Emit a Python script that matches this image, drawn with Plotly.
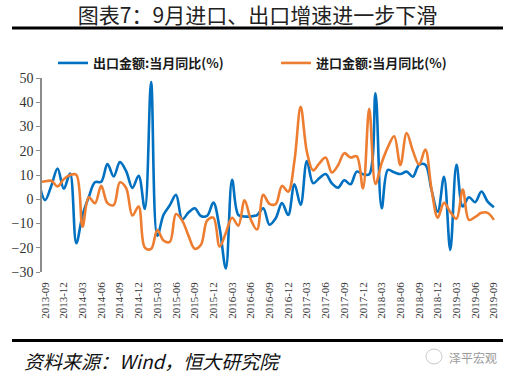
import numpy as np
import pandas as pd
import plotly.graph_objects as go

# ---- data (monthly, 2013-08 .. 2019-09) ----
months = [str(p) for p in pd.period_range("2013-08", "2019-09", freq="M")]

exports_yoy = (
    [7.2, -0.3, 5.6, 12.7, 4.3]
    + [10.6, -18.1, -6.6, 0.9, 7.0, 7.2, 14.5, 9.4, 15.3, 11.6, 4.7, 9.7]
    + [-4.0, 48.3, -15.0, -6.4, -2.5, 1.8, -8.3, -5.5, -3.7, -6.9, -6.8, -1.4]
    + [-12.0, -28.5, 8.0, -6.5, -7.1, -7.1, -6.5, -3.7, -10.5, -7.8, -1.6, -6.5]
    + [6.2, -2.3, 15.8, 6.6, 8.7, 10.4, 6.6, 4.8, 7.8, 6.2, 11.4, 10.3]
    + [10.3, 43.7, -3.7, 12.1, 11.1, 10.4, 11.4, 9.3, 14.2, 14.2, 3.8, -5.1]
    + [9.3, -20.9, 14.2, -3.0, 0.8, -1.2, 3.2, -1.0, -3.3]
)
imports_yoy = (
    [7.0, 7.4, 7.6, 5.3, 8.3]
    + [10.0, 10.1, -11.3, 0.8, -1.6, 5.5, -1.6, -2.4, 7.0, 4.6, -6.7, -3.0]
    + [-19.9, -20.5, -12.7, -17.0, -17.6, -6.1, -8.8, -15.0, -20.4, -18.8, -8.7, -7.6]
    + [-19.5, -13.8, -7.6, -10.9, -0.4, -8.4, -12.5, 1.8, -1.9, -2.0, 5.5, 3.1]
    + [15.8, 38.1, 19.5, 11.9, 14.8, 17.2, 11.0, 14.0, 19.0, 17.2, 17.7, 4.5]
    + [37.3, 6.3, 15.0, 21.5, 26.0, 14.1, 27.3, 20.0, 14.3, 20.5, 4.0, -7.6]
    + [-1.5, -5.2, -8.0, 4.0, -8.5, -7.3, -5.6, -5.6, -8.5]
)

series_names = ["出口金额:当月同比(%)", "进口金额:当月同比(%)"]
title_text = "图表7：9月进口、出口增速进一步下滑"
source_text = "资料来源：Wind，恒大研究院"
watermark_text = "泽平宏观"

# ---- positions derived from the month list ----
xs = np.arange(len(months))
first_shown = months.index("2013-09")
tick_idx = [i for i in xs if i >= first_shown and int(months[i][5:]) % 3 == 0]
tick_text = [months[i] for i in tick_idx]
x_range = [first_shown - 0.5, len(months) - 0.5]

BLUE = "#0070C0"
ORANGE = "#ED7D31"
AXIS_GRAY = "#8C8C8C"
SERIF = "Liberation Serif, Times New Roman, serif"
CJK = "Noto Sans CJK SC, sans-serif"

fig = go.Figure()
fig.add_trace(go.Scatter(x=xs, y=exports_yoy, name=series_names[0], mode="lines",
                         line=dict(color=BLUE, width=2.6, shape="spline", smoothing=1.0)))
fig.add_trace(go.Scatter(x=xs, y=imports_yoy, name=series_names[1], mode="lines",
                         line=dict(color=ORANGE, width=2.6, shape="spline", smoothing=1.0)))

L, R, T, B = 42, 18, 78, 108
W, H = 515, 380
pw, ph = W - L - R, H - T - B

def px_x(px):
    return (px - L) / pw

def px_y(py):
    return (H - B - py) / ph

fig.update_layout(
    width=W, height=H,
    margin=dict(l=L, r=R, t=T, b=B, autoexpand=False),
    paper_bgcolor="white", plot_bgcolor="white",
    showlegend=True,
    legend=dict(orientation="h", x=px_x(53), xanchor="left", y=px_y(63), yanchor="middle",
                font=dict(family=CJK, size=13, color="#1a1a1a", weight="bold"),
                entrywidth=178, entrywidthmode="pixels", bgcolor="rgba(0,0,0,0)",
                traceorder="normal"),
    title=dict(text=title_text, x=0.5, xanchor="center", y=1 - 16 / H, yanchor="middle",
               font=dict(family=CJK, size=21, color="#222")),
    xaxis=dict(range=x_range, tickmode="array", tickvals=tick_idx, ticktext=tick_text,
               tickangle=-90, showline=False, ticks="", showgrid=False, zeroline=False,
               automargin=False,
               tickfont=dict(family=SERIF, size=11, color="#333"), ticklabelstandoff=7),
    xaxis2=dict(overlaying="x", anchor="free", position=30 / 80, range=x_range,
                tickmode="array", tickvals=[v - 0.5 for v in tick_idx], showticklabels=False,
                showline=True, linecolor=AXIS_GRAY, linewidth=1.5,
                ticks="outside", ticklen=4, tickcolor=AXIS_GRAY, tickwidth=1.2,
                showgrid=False, zeroline=False),
    yaxis=dict(range=[-30, 50], dtick=10, showline=True, linecolor=AXIS_GRAY, linewidth=1.5,
               ticks="outside", ticklen=4, tickcolor=AXIS_GRAY, tickwidth=1.2,
               showgrid=False, zeroline=False, automargin=False,
               tickfont=dict(family=SERIF, size=14, color="#333")),
)

# thick rules under the title and above the source
for py in (28, 340.5):
    fig.add_shape(type="line", xref="paper", yref="paper",
                  x0=px_x(12), x1=px_x(503), y0=px_y(py), y1=px_y(py),
                  line=dict(color="black", width=3))

fig.add_annotation(text=source_text, xref="paper", yref="paper", x=px_x(22), y=px_y(360),
                   xanchor="left", yanchor="middle", showarrow=False,
                   font=dict(family=CJK, size=19, color="#111", style="italic"))
fig.add_annotation(text=watermark_text, xref="paper", yref="paper", x=px_x(499), y=px_y(357),
                   xanchor="right", yanchor="middle", showarrow=False,
                   font=dict(family=CJK, size=12, color="#9a9a9a"))
fig.add_shape(type="circle", xref="paper", yref="paper",
              x0=px_x(426), x1=px_x(442), y0=px_y(364), y1=px_y(349),
              line=dict(color="#c8c8c8", width=1))

fig.write_html("out.html", config={"displayModeBar": False},
               post_script="document.body.style.margin='0';document.body.style.overflow='hidden';")
